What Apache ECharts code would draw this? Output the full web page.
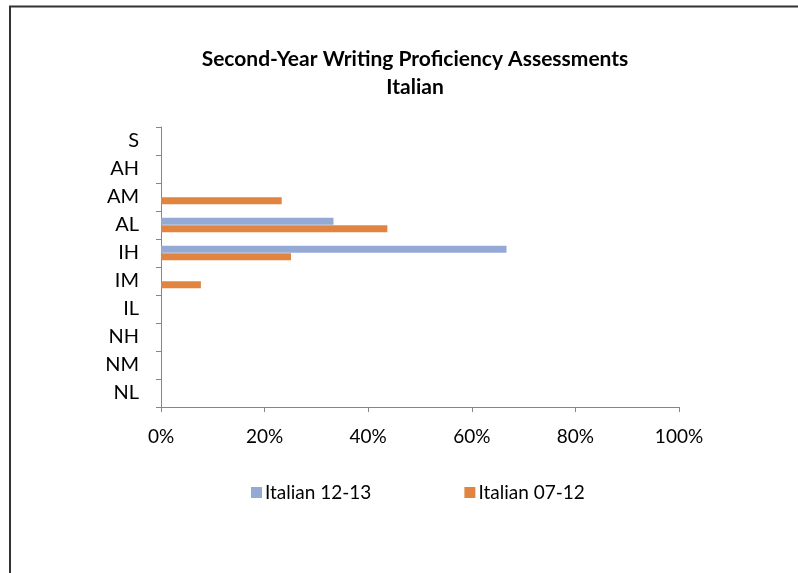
<!DOCTYPE html>
<html>
<head>
<meta charset="utf-8">
<script src="https://cdn.jsdelivr.net/npm/echarts@6/dist/echarts.min.js"></script>
<style>
  html, body { margin: 0; padding: 0; background: #fff; }
  #chart { width: 798px; height: 573px; }
</style>
</head>
<body>
<div id="chart"></div>
<script>
// Proficiency levels, listed from top (S) to bottom (NL)
const levels = ['S', 'AH', 'AM', 'AL', 'IH', 'IM', 'IL', 'NH', 'NM', 'NL'];
// Share of students at each level (fraction of cohort)
const italian1213 = [0, 0, 0, 0.333, 0.667, 0, 0, 0, 0, 0];
const italian0712 = [0, 0, 0.233, 0.437, 0.251, 0.077, 0, 0, 0, 0];
const xTicks = [0, 0.2, 0.4, 0.6, 0.8, 1.0];

const FONT = 'Lato, "Open Sans", sans-serif';
const axisGray = '#868686';

const chart = echarts.init(document.getElementById('chart'));
chart.setOption({
  animation: false,
  title: {
    text: 'Second-Year Writing Proficiency Assessments\nItalian',
    left: 410,
    textAlign: 'center',
    top: 40,
    textStyle: { fontFamily: FONT, fontWeight: 'bold', fontSize: 21, lineHeight: 28, color: '#000' }
  },
  legend: {
    data: ['Italian 12-13', 'Italian 07-12'],
    left: 246,
    top: 478,
    itemWidth: 11,
    itemHeight: 11,
    itemGap: 93,
    icon: 'rect',
    textStyle: { fontFamily: FONT, fontSize: 19, color: '#000', padding: [0, 0, 0, -2] }
  },
  grid: { left: 161, right: 119, top: 127, bottom: 166 },
  xAxis: {
    type: 'value',
    min: xTicks[0],
    max: xTicks[xTicks.length - 1],
    interval: 0.2,
    axisLine: { show: true, lineStyle: { color: axisGray } },
    axisTick: { show: true, length: 5, lineStyle: { color: axisGray } },
    splitLine: { show: false },
    axisLabel: {
      margin: 20,
      fontFamily: FONT, fontSize: 19, color: '#000',
      formatter: v => Math.round(v * 100) + '%'
    }
  },
  yAxis: {
    type: 'category',
    data: levels,
    inverse: true,
    axisLine: { show: true, lineStyle: { color: axisGray } },
    axisTick: { show: true, length: 5, lineStyle: { color: axisGray } },
    axisLabel: { margin: 22, fontFamily: FONT, fontSize: 20, color: '#000' }
  },
  series: [
    {
      name: 'Italian 12-13',
      type: 'bar',
      data: italian1213,
      barWidth: 7,
      barGap: '8%',
      itemStyle: { color: '#94a9d4' }
    },
    {
      name: 'Italian 07-12',
      type: 'bar',
      data: italian0712,
      barWidth: 7,
      barGap: '8%',
      itemStyle: { color: '#e0843f' }
    }
  ],
  graphic: [
    {
      type: 'polyline',
      shape: { points: [[10, 573], [10, 6.5], [798, 6.5]] },
      style: { stroke: '#333', lineWidth: 2, fill: null }
    }
  ]
});
</script>
</body>
</html>
